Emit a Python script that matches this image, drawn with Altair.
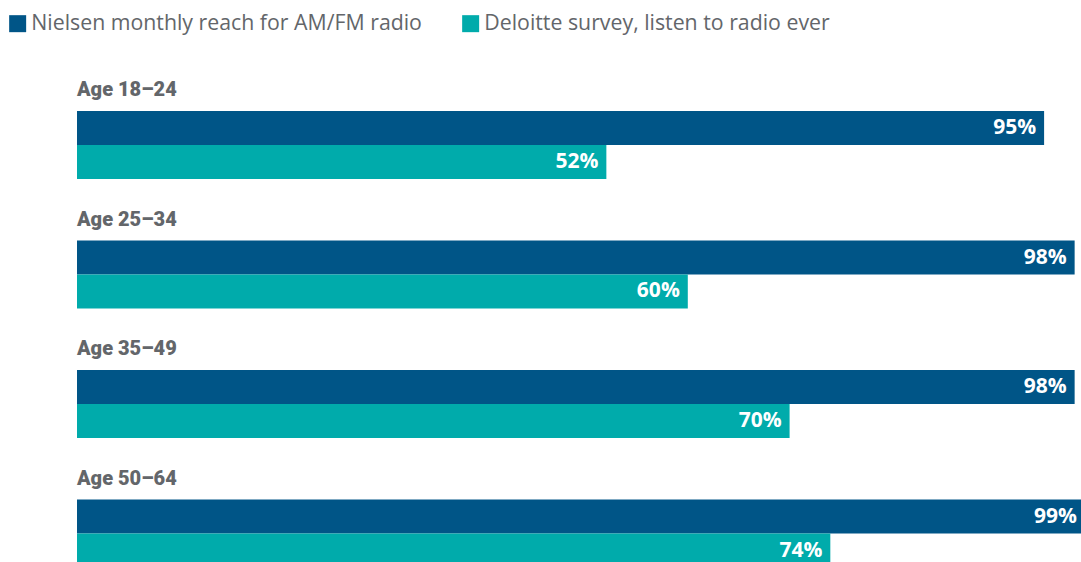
import altair as alt
import pandas as pd

groups = ["Age 18–24", "Age 25–34", "Age 35–49", "Age 50–64"]
series = ["Nielsen monthly reach for AM/FM radio", "Deloitte survey, listen to radio ever"]
nielsen = [95, 98, 98, 99]
deloitte = [52, 60, 70, 74]
colors = ["#005587", "#00ABAB"]

rows = []
for g, n, d in zip(groups, nielsen, deloitte):
    rows.append({"group": g, "series": series[0], "value": n, "label": f"{n}%"})
    rows.append({"group": g, "series": series[1], "value": d, "label": f"{d}%"})
df = pd.DataFrame(rows)
gdf = pd.DataFrame({"group": groups})

yscale = alt.Scale(domain=groups, range=[111, 567.5], paddingInner=0.475, paddingOuter=0)
xscale = alt.Scale(domain=[0, 100], range=[0, 1018])

base = alt.Chart(df)

bars = base.mark_bar(strokeWidth=0).encode(
    x=alt.X("value:Q", scale=xscale, axis=None),
    y=alt.Y("group:N", scale=yscale, axis=None),
    yOffset=alt.YOffset("series:N", sort=series),
    color=alt.Color(
        "series:N",
        scale=alt.Scale(domain=series, range=colors),
        sort=series,
        legend=alt.Legend(
            title=None,
            orient="none",
            legendX=-70,
            legendY=13,
            direction="horizontal",
            symbolType="square",
            symbolSize=289,
            symbolStrokeWidth=0,
            symbolOpacity=1,
            labelFont="Open Sans",
            labelFontSize=21.3,
            labelColor="#63666A",
            labelOffset=3,
            labelLimit=0,
            columnPadding=38,
            padding=0,
        ),
    ),
)

values = base.mark_text(
    align="right", baseline="middle", dx=-8, font="Open Sans", fontWeight="bold",
    fontSize=21, color="white",
).encode(
    x=alt.X("value:Q", scale=xscale),
    y=alt.Y("group:N", scale=yscale),
    yOffset=alt.YOffset("series:N", sort=series),
    text="label:N",
)

glabels = alt.Chart(gdf).mark_text(
    align="left", baseline="alphabetic", dy=-15,
    font="Roboto",
    fontWeight=900, fontSize=20, color="#63666A",
).encode(
    x=alt.value(0),
    y=alt.Y("group:N", scale=yscale, bandPosition=0),
    text="group:N",
)

chart = alt.layer(bars, values, glabels).properties(
    width=1004,
    height=562,
    autosize=alt.AutoSizeParams(type="none"),
    padding={"left": 77, "top": 0, "right": 0, "bottom": 0},
).configure_view(stroke=None).resolve_scale(y="shared", x="shared")

chart.save("out.html", embed_options={"renderer": "svg", "actions": False})
